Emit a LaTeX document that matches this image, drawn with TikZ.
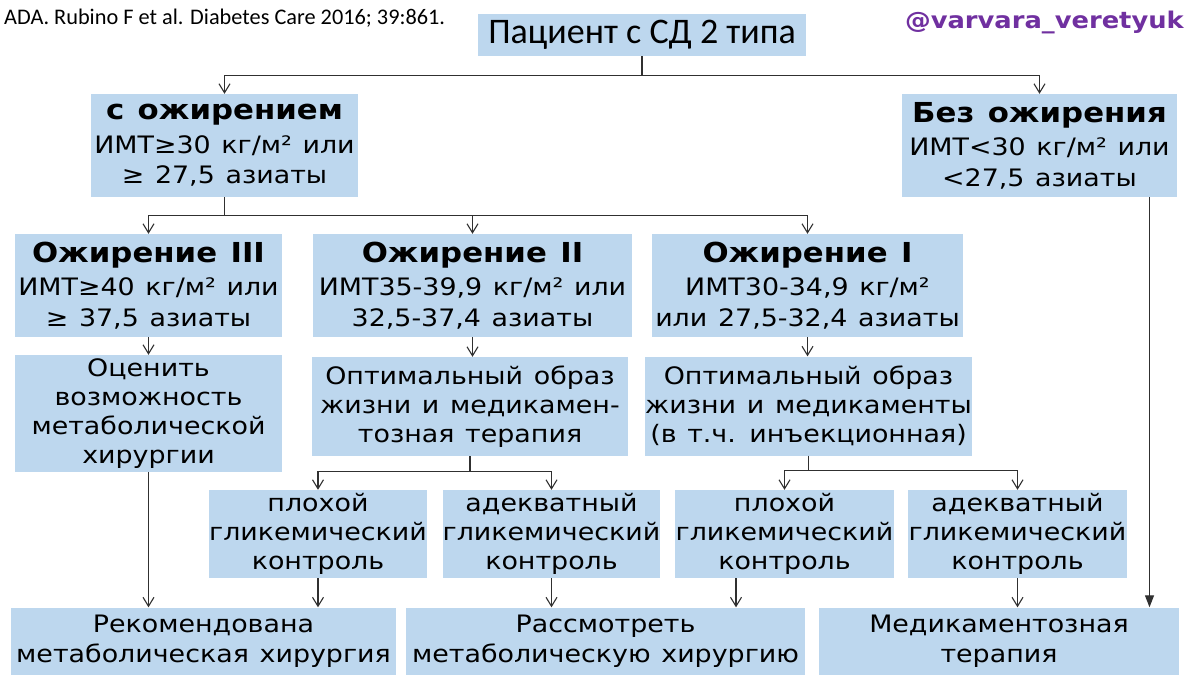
\documentclass[tikz,border=0pt]{standalone}
\usepackage{fontspec}
\setmainfont{DejaVu Sans}[FakeStretch=1.12, WordSpace=1.25]
\newfontfamily\calib{Carlito}
\usetikzlibrary{arrows.meta,calc}
\definecolor{boxblue}{HTML}{BDD7EE}
\definecolor{handlecol}{HTML}{7030A0}
\definecolor{linecol}{HTML}{303030}
\newcommand{\hdr}{\fontsize{27.5}{34}\bfseries\selectfont}
\begin{document}
\begin{tikzpicture}[x=1pt,y=-1pt,
  box/.style={fill=boxblue, inner sep=0pt, align=center, font=\fontsize{24}{29}\selectfont},
  hbox/.style={box, font=\fontsize{24}{30.5}\selectfont},
  line/.style={draw=linecol, line width=1.2pt},
  arr/.style={line, -{Straight Barb[length=9pt,width=11pt,line width=1.1pt]}},
  farr/.style={line, -{Triangle[length=12pt,width=9pt]}}]
\useasboundingbox (0,0) rectangle (1200,675);
\fill[white] (0,0) rectangle (1200,675);

% header texts
\node[anchor=west, inner sep=0pt, font=\calib\fontsize{22.3}{26}\selectfont] (cite) at (4,18) {ADA. Rubino F et al. Diabetes Care 2016; 39:861.};
\node[anchor=east, inner sep=0pt, text=handlecol, font=\fontsize{23}{27}\bfseries\selectfont] (handle) at (1184,22) {@varvara\_veretyuk};

% boxes
\node[box, minimum width=328pt, minimum height=42pt, font=\calib\fontsize{36}{40}\selectfont] (top) at (642,35) {Пациент с СД 2 типа};

\node[hbox, minimum width=267pt, minimum height=103pt] (obese) at (224.5,145.5) {{\hdr с ожирением}\\[3pt] ИМТ≥30 кг/м² или\\ ≥ 27,5 азиаты};
\node[hbox, minimum width=275pt, minimum height=103pt] (nonob) at (1039.5,145.5) {{\hdr Без ожирения}\\[3pt] ИМТ<30 кг/м² или\\ <27,5 азиаты};

\node[hbox, minimum width=267pt, minimum height=103pt] (ob3) at (148.5,285.5) {{\hdr Ожирение III}\\[3pt] ИМТ≥40 кг/м² или\\ ≥ 37,5 азиаты};
\node[hbox, minimum width=319pt, minimum height=103pt] (ob2) at (472.5,285.5) {{\hdr Ожирение II}\\[3pt] ИМТ35-39,9 кг/м² или\\ 32,5-37,4 азиаты};
\node[hbox, minimum width=311pt, minimum height=103pt] (ob1) at (807.5,285.5) {{\hdr Ожирение I}\\[3pt] ИМТ30-34,9 кг/м²\\ или 27,5-32,4 азиаты};

\node[box, minimum width=267pt, minimum height=117pt] (eval) at (148.5,413.5) {Оценить\\ возможность\\ метаболической\\ хирургии};
\node[box, minimum width=316pt, minimum height=99pt] (opt2) at (470,406.5) {Оптимальный образ\\ жизни и медикамен-\\ тозная терапия};
\node[box, minimum width=317pt, minimum height=99pt] (opt1) at (808.5,406) {Оптимальный образ\\ жизни и медикаменты\\ (в т.ч. инъекционная)};

\node[box, minimum width=218pt, minimum height=88pt] (p2) at (318,534) {плохой\\ гликемический\\ контроль};
\node[box, minimum width=217pt, minimum height=88pt] (a2) at (551.5,534) {адекватный\\ гликемический\\ контроль};
\node[box, minimum width=219pt, minimum height=88pt] (p1) at (784.5,534) {плохой\\ гликемический\\ контроль};
\node[box, minimum width=219pt, minimum height=88pt] (a1) at (1017.5,534) {адекватный\\ гликемический\\ контроль};

\node[box, minimum width=385pt, minimum height=67pt, font=\fontsize{24}{30}\selectfont] (rec) at (203.5,641) {Рекомендована\\ метаболическая хирургия};
\node[box, minimum width=399pt, minimum height=67pt, font=\fontsize{24}{30}\selectfont] (con) at (605.5,641) {Рассмотреть\\ метаболическую хирургию};
\node[box, minimum width=360pt, minimum height=67pt, font=\fontsize{24}{30}\selectfont] (med) at (999,641) {Медикаментозная\\ терапия};

% connectors
\coordinate (j0) at ($(top.south)+(0,19)$);
\draw[line] (top.south) -- (j0);
\draw[arr] (j0) -| (obese.north);
\draw[arr] (j0) -| (nonob.north);

\coordinate (j1) at ($(obese.south)+(0,18)$);
\draw[line] (obese.south) -- (j1);
\draw[arr] (j1) -| (ob3.north);
\draw[arr] (j1) -| (ob2.north);
\draw[arr] (j1) -| (ob1.north);

\draw[arr] (ob3.south) -- (ob3.south |- eval.north);
\draw[arr] (ob2.south) -- (ob2.south |- opt2.north);
\draw[arr] (ob1.south) -- (ob1.south |- opt1.north);

\coordinate (j2) at ($(opt2.south)+(0,15)$);
\draw[line] (opt2.south) -- (j2);
\draw[arr] (j2) -| (p2.north);
\draw[arr] (j2) -| (a2.north);

\coordinate (j3) at ($(opt1.south)+(0,15)$);
\draw[line] (opt1.south) -- (j3);
\draw[arr] (j3) -| (p1.north);
\draw[arr] (j3) -| (a1.north);

\draw[arr] (eval.south) -- (eval.south |- rec.north);
\draw[arr] (p2.south) -- (p2.south |- rec.north);
\draw[arr] (a2.south) -- (a2.south |- con.north);
\draw[arr] ([xshift=-48.5pt]p1.south) -- ([xshift=-48.5pt]p1.south |- con.north);
\draw[arr] (a1.south) -- (a1.south |- med.north);
\draw[farr] ([xshift=110pt]nonob.south) -- ([xshift=110pt]nonob.south |- med.north);
\end{tikzpicture}
\end{document}
